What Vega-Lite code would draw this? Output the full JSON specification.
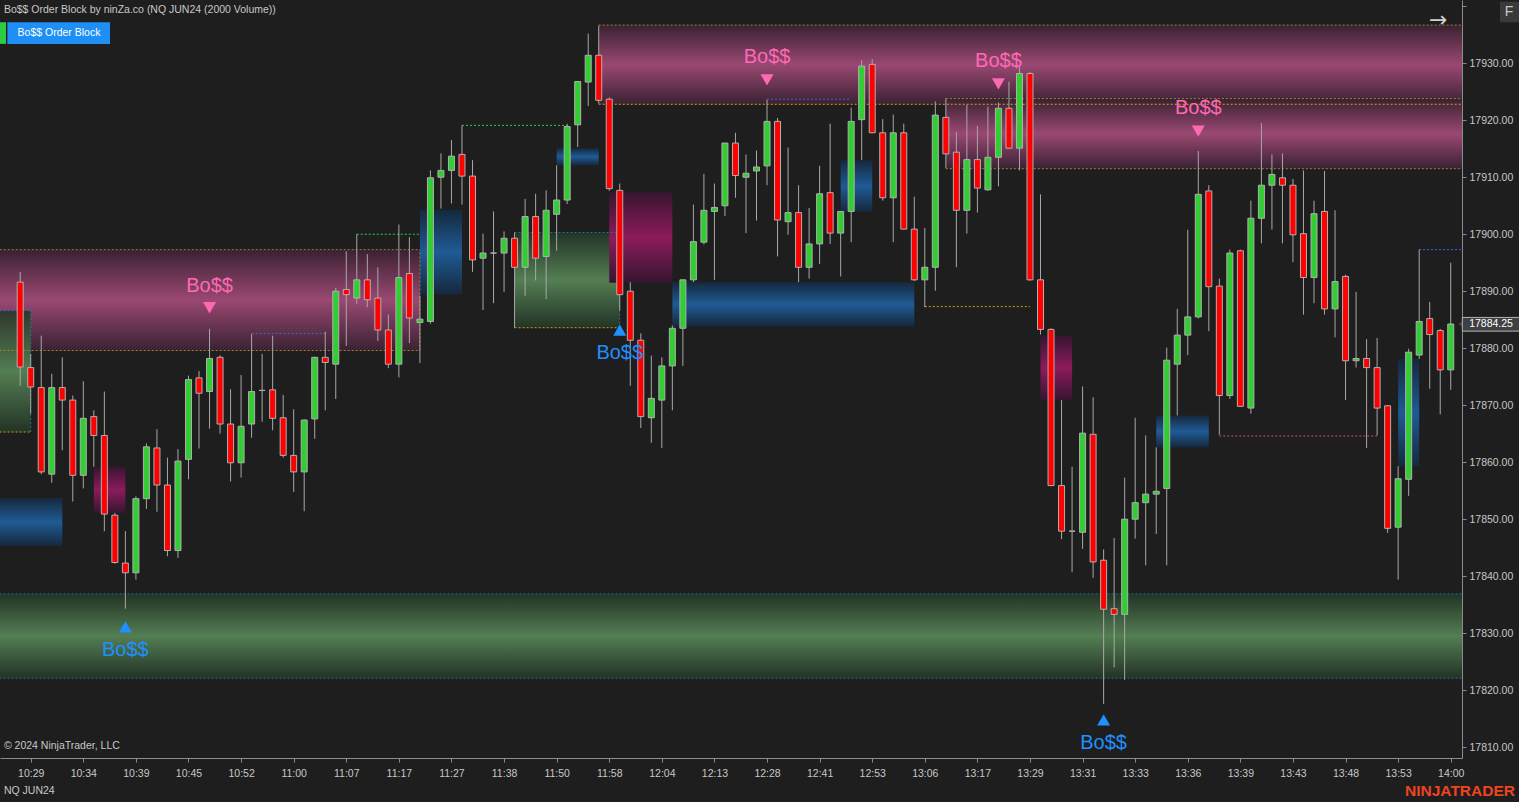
{
  "$schema": "https://vega.github.io/schema/vega-lite/v6.json",
  "width": 1462,
  "height": 758,
  "autosize": {"type": "none"},
  "padding": {"left": 0, "top": 0, "right": 57, "bottom": 44},
  "background": "#1e1e1e",
  "config": {
    "view": {"stroke": null},
    "axis": {"grid": false, "domainColor": "#8c8c8c", "tickColor": "#8c8c8c", "labelColor": "#c8c8c8", "labelFont": "Liberation Sans", "labelFontSize": 10.5, "tickSize": 4, "title": null}
  },
  "datasets": {
    "candles": [
      {"i":0,"o":17891.6,"h":17893.4,"l":17873.4,"c":17876.7},
      {"i":1,"o":17876.6,"h":17879.0,"l":17868.5,"c":17873.2},
      {"i":2,"o":17873.1,"h":17882.2,"l":17857.9,"c":17858.3},
      {"i":3,"o":17857.9,"h":17875.5,"l":17856.4,"c":17873.1},
      {"i":4,"o":17873.1,"h":17878.4,"l":17862.1,"c":17870.9},
      {"i":5,"o":17870.9,"h":17871.7,"l":17853.1,"c":17857.7},
      {"i":6,"o":17857.7,"h":17874.2,"l":17855.4,"c":17867.7},
      {"i":7,"o":17868.0,"h":17869.1,"l":17859.2,"c":17864.7},
      {"i":8,"o":17864.7,"h":17872.4,"l":17847.9,"c":17850.9},
      {"i":9,"o":17850.7,"h":17851.1,"l":17842.2,"c":17842.4},
      {"i":10,"o":17842.3,"h":17847.9,"l":17834.3,"c":17840.6},
      {"i":11,"o":17840.6,"h":17854.0,"l":17839.4,"c":17853.6},
      {"i":12,"o":17853.6,"h":17863.3,"l":17851.8,"c":17862.7},
      {"i":13,"o":17862.5,"h":17865.8,"l":17851.3,"c":17856.0},
      {"i":14,"o":17856.0,"h":17860.8,"l":17843.5,"c":17844.5},
      {"i":15,"o":17844.5,"h":17862.3,"l":17843.2,"c":17860.2},
      {"i":16,"o":17860.5,"h":17875.2,"l":17857.0,"c":17874.5},
      {"i":17,"o":17874.8,"h":17876.0,"l":17862.4,"c":17872.1},
      {"i":18,"o":17872.4,"h":17883.4,"l":17865.9,"c":17878.2},
      {"i":19,"o":17878.4,"h":17878.8,"l":17865.0,"c":17866.7},
      {"i":20,"o":17866.7,"h":17872.8,"l":17856.6,"c":17859.9},
      {"i":21,"o":17859.9,"h":17875.3,"l":17857.3,"c":17866.3},
      {"i":22,"o":17866.7,"h":17882.5,"l":17864.3,"c":17872.4},
      {"i":23,"o":17872.6,"h":17879.0,"l":17867.1,"c":17872.6},
      {"i":24,"o":17872.7,"h":17882.2,"l":17865.6,"c":17867.7},
      {"i":25,"o":17867.8,"h":17871.8,"l":17860.8,"c":17861.2},
      {"i":26,"o":17861.2,"h":17869.3,"l":17854.8,"c":17858.3},
      {"i":27,"o":17858.3,"h":17867.5,"l":17851.4,"c":17867.4},
      {"i":28,"o":17867.6,"h":17878.5,"l":17864.1,"c":17878.4},
      {"i":29,"o":17878.4,"h":17882.9,"l":17869.1,"c":17877.5},
      {"i":30,"o":17877.2,"h":17890.6,"l":17871.1,"c":17890.0},
      {"i":31,"o":17890.3,"h":17897.0,"l":17880.4,"c":17889.4},
      {"i":32,"o":17888.8,"h":17900.0,"l":17887.8,"c":17892.0},
      {"i":33,"o":17892.0,"h":17896.5,"l":17887.2,"c":17888.5},
      {"i":34,"o":17888.8,"h":17894.2,"l":17881.3,"c":17883.2},
      {"i":35,"o":17883.2,"h":17885.9,"l":17876.5,"c":17877.2},
      {"i":36,"o":17877.2,"h":17901.7,"l":17874.9,"c":17892.4},
      {"i":37,"o":17893.1,"h":17899.5,"l":17880.9,"c":17885.3},
      {"i":38,"o":17884.5,"h":17889.2,"l":17877.4,"c":17885.1},
      {"i":39,"o":17884.7,"h":17911.2,"l":17884.3,"c":17909.9},
      {"i":40,"o":17910.0,"h":17914.2,"l":17904.5,"c":17911.2},
      {"i":41,"o":17911.2,"h":17916.5,"l":17905.4,"c":17913.7},
      {"i":42,"o":17914.0,"h":17919.1,"l":17905.2,"c":17910.2},
      {"i":43,"o":17910.2,"h":17913.0,"l":17893.4,"c":17895.5},
      {"i":44,"o":17895.8,"h":17900.1,"l":17886.7,"c":17896.7},
      {"i":45,"o":17896.7,"h":17904.0,"l":17887.9,"c":17896.7},
      {"i":46,"o":17896.7,"h":17900.5,"l":17889.9,"c":17899.3},
      {"i":47,"o":17899.3,"h":17900.3,"l":17883.6,"c":17894.2},
      {"i":48,"o":17894.2,"h":17906.2,"l":17889.2,"c":17903.1},
      {"i":49,"o":17903.1,"h":17907.1,"l":17891.9,"c":17895.8},
      {"i":50,"o":17896.1,"h":17907.7,"l":17888.6,"c":17904.2},
      {"i":51,"o":17903.5,"h":17912.1,"l":17897.1,"c":17906.0},
      {"i":52,"o":17906.0,"h":17919.4,"l":17905.3,"c":17918.9},
      {"i":53,"o":17919.2,"h":17926.8,"l":17915.3,"c":17926.8},
      {"i":54,"o":17926.7,"h":17935.2,"l":17922.5,"c":17931.4},
      {"i":55,"o":17931.4,"h":17936.6,"l":17922.9,"c":17923.5},
      {"i":56,"o":17923.7,"h":17924.0,"l":17907.6,"c":17908.0},
      {"i":57,"o":17907.7,"h":17908.9,"l":17886.6,"c":17889.4},
      {"i":58,"o":17890.0,"h":17891.6,"l":17873.4,"c":17881.4},
      {"i":59,"o":17881.4,"h":17882.6,"l":17866.0,"c":17868.0},
      {"i":60,"o":17867.8,"h":17878.7,"l":17863.4,"c":17871.2},
      {"i":61,"o":17870.9,"h":17878.4,"l":17862.5,"c":17876.9},
      {"i":62,"o":17876.9,"h":17884.0,"l":17869.1,"c":17883.5},
      {"i":63,"o":17883.5,"h":17892.0,"l":17876.9,"c":17892.0},
      {"i":64,"o":17892.0,"h":17905.2,"l":17891.6,"c":17898.7},
      {"i":65,"o":17898.6,"h":17910.6,"l":17898.2,"c":17904.2},
      {"i":66,"o":17904.0,"h":17908.9,"l":17892.0,"c":17904.7},
      {"i":67,"o":17905.0,"h":17916.0,"l":17903.2,"c":17916.0},
      {"i":68,"o":17916.0,"h":17917.8,"l":17906.4,"c":17910.3},
      {"i":69,"o":17910.0,"h":17914.0,"l":17900.2,"c":17910.7},
      {"i":70,"o":17911.1,"h":17914.7,"l":17902.4,"c":17911.8},
      {"i":71,"o":17912.0,"h":17923.6,"l":17908.6,"c":17919.8},
      {"i":72,"o":17919.8,"h":17920.4,"l":17896.1,"c":17902.5},
      {"i":73,"o":17902.2,"h":17915.2,"l":17899.9,"c":17903.8},
      {"i":74,"o":17903.8,"h":17908.6,"l":17891.6,"c":17894.2},
      {"i":75,"o":17894.2,"h":17904.6,"l":17892.2,"c":17898.3},
      {"i":76,"o":17898.3,"h":17912.0,"l":17894.8,"c":17907.1},
      {"i":77,"o":17907.3,"h":17919.4,"l":17898.3,"c":17900.2},
      {"i":78,"o":17900.2,"h":17904.0,"l":17892.6,"c":17904.0},
      {"i":79,"o":17904.0,"h":17922.2,"l":17898.6,"c":17919.8},
      {"i":80,"o":17920.1,"h":17930.5,"l":17913.0,"c":17929.5},
      {"i":81,"o":17929.8,"h":17930.7,"l":17917.8,"c":17917.8},
      {"i":82,"o":17917.8,"h":17920.2,"l":17905.9,"c":17906.4},
      {"i":83,"o":17906.4,"h":17921.0,"l":17898.6,"c":17917.8},
      {"i":84,"o":17917.8,"h":17919.4,"l":17900.9,"c":17900.9},
      {"i":85,"o":17900.9,"h":17906.6,"l":17891.8,"c":17892.0},
      {"i":86,"o":17892.0,"h":17901.1,"l":17887.2,"c":17894.2},
      {"i":87,"o":17894.2,"h":17923.3,"l":17890.1,"c":17920.9},
      {"i":88,"o":17920.5,"h":17923.8,"l":17911.6,"c":17914.1},
      {"i":89,"o":17914.4,"h":17917.9,"l":17894.2,"c":17904.2},
      {"i":90,"o":17904.2,"h":17922.7,"l":17900.1,"c":17913.1},
      {"i":91,"o":17913.1,"h":17919.0,"l":17903.8,"c":17908.1},
      {"i":92,"o":17907.8,"h":17922.4,"l":17907.6,"c":17913.5},
      {"i":93,"o":17913.5,"h":17923.1,"l":17908.4,"c":17922.1},
      {"i":94,"o":17922.1,"h":17926.8,"l":17915.0,"c":17915.1},
      {"i":95,"o":17915.1,"h":17929.4,"l":17911.2,"c":17928.2},
      {"i":96,"o":17928.2,"h":17928.5,"l":17891.8,"c":17892.0},
      {"i":97,"o":17892.0,"h":17907.0,"l":17882.4,"c":17883.3},
      {"i":98,"o":17883.3,"h":17883.5,"l":17855.8,"c":17855.9},
      {"i":99,"o":17855.9,"h":17870.9,"l":17846.5,"c":17847.9},
      {"i":100,"o":17847.9,"h":17859.2,"l":17840.7,"c":17847.9},
      {"i":101,"o":17847.7,"h":17873.3,"l":17844.8,"c":17865.1},
      {"i":102,"o":17864.9,"h":17871.4,"l":17839.7,"c":17842.5},
      {"i":103,"o":17842.8,"h":17844.7,"l":17817.6,"c":17834.2},
      {"i":104,"o":17834.3,"h":17846.7,"l":17824.0,"c":17833.3},
      {"i":105,"o":17833.3,"h":17857.3,"l":17821.8,"c":17850.0},
      {"i":106,"o":17850.0,"h":17867.8,"l":17846.6,"c":17852.9},
      {"i":107,"o":17852.9,"h":17864.7,"l":17841.9,"c":17854.4},
      {"i":108,"o":17854.4,"h":17862.6,"l":17847.4,"c":17854.9},
      {"i":109,"o":17855.4,"h":17880.1,"l":17841.9,"c":17877.9},
      {"i":110,"o":17877.2,"h":17886.9,"l":17868.2,"c":17882.3},
      {"i":111,"o":17882.3,"h":17900.8,"l":17878.8,"c":17885.5},
      {"i":112,"o":17885.5,"h":17914.6,"l":17885.2,"c":17907.0},
      {"i":113,"o":17907.6,"h":17908.6,"l":17883.0,"c":17890.8},
      {"i":114,"o":17890.9,"h":17892.2,"l":17864.8,"c":17871.7},
      {"i":115,"o":17871.7,"h":17897.3,"l":17871.1,"c":17896.7},
      {"i":116,"o":17897.1,"h":17897.3,"l":17869.8,"c":17869.8},
      {"i":117,"o":17869.5,"h":17905.9,"l":17868.5,"c":17902.8},
      {"i":118,"o":17902.8,"h":17919.5,"l":17898.4,"c":17908.6},
      {"i":119,"o":17908.6,"h":17914.0,"l":17900.8,"c":17910.5},
      {"i":120,"o":17909.9,"h":17914.2,"l":17898.4,"c":17908.6},
      {"i":121,"o":17908.6,"h":17909.7,"l":17895.1,"c":17899.9},
      {"i":122,"o":17900.1,"h":17911.2,"l":17885.9,"c":17892.4},
      {"i":123,"o":17892.4,"h":17905.9,"l":17887.9,"c":17903.6},
      {"i":124,"o":17904.0,"h":17911.1,"l":17885.9,"c":17886.9},
      {"i":125,"o":17886.9,"h":17904.2,"l":17881.9,"c":17891.7},
      {"i":126,"o":17892.6,"h":17892.9,"l":17870.9,"c":17877.8},
      {"i":127,"o":17877.8,"h":17889.9,"l":17876.6,"c":17878.2},
      {"i":128,"o":17878.2,"h":17881.6,"l":17862.5,"c":17876.6},
      {"i":129,"o":17876.6,"h":17881.8,"l":17864.7,"c":17869.5},
      {"i":130,"o":17869.9,"h":17870.0,"l":17847.6,"c":17848.4},
      {"i":131,"o":17848.6,"h":17859.3,"l":17839.4,"c":17857.1},
      {"i":132,"o":17857.0,"h":17879.9,"l":17854.1,"c":17879.3},
      {"i":133,"o":17878.8,"h":17897.3,"l":17878.1,"c":17884.7},
      {"i":134,"o":17885.2,"h":17888.1,"l":17872.9,"c":17882.4},
      {"i":135,"o":17883.1,"h":17883.4,"l":17868.4,"c":17876.2},
      {"i":136,"o":17876.2,"h":17895.0,"l":17872.7,"c":17884.25}
    ],
    "zones": [
      {"kind":"bear","i1":55,"i2":140,"lo":17922.8,"hi":17936.7},
      {"kind":"bear","i1":88,"i2":140,"lo":17911.5,"hi":17923.8},
      {"kind":"bear","i1":-5,"i2":38,"lo":17879.6,"hi":17897.3},
      {"kind":"bull","i1":-5,"i2":140,"lo":17822.1,"hi":17836.9},
      {"kind":"bull","i1":47,"i2":57,"lo":17883.6,"hi":17900.3},
      {"kind":"bull","i1":-5,"i2":1,"lo":17865.3,"hi":17886.6},
      {"kind":"blue","i1":-5,"i2":4,"lo":17845.3,"hi":17853.7},
      {"kind":"blue","i1":38,"i2":42,"lo":17889.4,"hi":17904.3},
      {"kind":"blue","i1":51,"i2":55,"lo":17912.1,"hi":17915.1},
      {"kind":"blue","i1":62,"i2":85,"lo":17883.8,"hi":17891.6},
      {"kind":"blue","i1":78,"i2":81,"lo":17903.9,"hi":17913.0},
      {"kind":"blue","i1":108,"i2":113,"lo":17862.6,"hi":17868.2},
      {"kind":"blue","i1":131,"i2":133,"lo":17859.2,"hi":17878.1},
      {"kind":"mag","i1":7,"i2":10,"lo":17851.1,"hi":17859.2},
      {"kind":"mag","i1":56,"i2":62,"lo":17891.5,"hi":17907.4},
      {"kind":"mag","i1":97,"i2":100,"lo":17870.9,"hi":17882.2}
    ],
    "lines": [
      {"kind":"gold","i1":55,"i2":140,"p1":17936.7,"p2":17936.7},
      {"kind":"orange","i1":55,"i2":140,"p1":17922.8,"p2":17922.8},
      {"kind":"gold","i1":88,"i2":140,"p1":17923.8,"p2":17923.8},
      {"kind":"gold","i1":88,"i2":140,"p1":17911.5,"p2":17911.5},
      {"kind":"gold","i1":-5,"i2":38,"p1":17897.3,"p2":17897.3},
      {"kind":"gold","i1":-5,"i2":38,"p1":17879.6,"p2":17879.6},
      {"kind":"gold","i1":38,"i2":38,"p1":17879.6,"p2":17897.3},
      {"kind":"teal","i1":-5,"i2":140,"p1":17836.9,"p2":17836.9},
      {"kind":"teal","i1":-5,"i2":140,"p1":17822.1,"p2":17822.1},
      {"kind":"teal","i1":47,"i2":57,"p1":17900.3,"p2":17900.3},
      {"kind":"orange","i1":47,"i2":57,"p1":17883.6,"p2":17883.6},
      {"kind":"teal","i1":57,"i2":57,"p1":17883.6,"p2":17900.3},
      {"kind":"blue","i1":-5,"i2":1,"p1":17886.6,"p2":17886.6},
      {"kind":"orange","i1":-5,"i2":1,"p1":17865.3,"p2":17865.3},
      {"kind":"teal","i1":1,"i2":1,"p1":17865.3,"p2":17886.6},
      {"kind":"green","i1":42,"i2":52,"p1":17919.1,"p2":17919.1},
      {"kind":"green","i1":32,"i2":38,"p1":17900.0,"p2":17900.0},
      {"kind":"blue","i1":22,"i2":29,"p1":17882.6,"p2":17882.6},
      {"kind":"blue","i1":71,"i2":79,"p1":17923.7,"p2":17923.7},
      {"kind":"orange","i1":86,"i2":96,"p1":17887.3,"p2":17887.3},
      {"kind":"pink","i1":114,"i2":129,"p1":17864.6,"p2":17864.6},
      {"kind":"blue","i1":133,"i2":140,"p1":17897.3,"p2":17897.3}
    ],
    "signals": [
      {"i":18,"dir":"bear","tp":17887.1,"lp":17890.9,"label":"Bo$$"},
      {"i":71,"dir":"bear","tp":17927.1,"lp":17931.1,"label":"Bo$$"},
      {"i":93,"dir":"bear","tp":17926.4,"lp":17930.4,"label":"Bo$$"},
      {"i":112,"dir":"bear","tp":17918.1,"lp":17922.2,"label":"Bo$$"},
      {"i":10,"dir":"bull","tp":17831.1,"lp":17827.1,"label":"Bo$$"},
      {"i":57,"dir":"bull","tp":17883.2,"lp":17879.2,"label":"Bo$$"},
      {"i":103,"dir":"bull","tp":17814.8,"lp":17810.8,"label":"Bo$$"}
    ],
    "ui": [
      {"key":"gbar","i1":-1.92,"i2":-1.35,"p1":17933.4,"p2":17937.2},
      {"key":"btn","i1":-1.22,"i2":8.54,"p1":17933.4,"p2":17937.2},
      {"key":"fbox","i1":140.68,"i2":142.5,"p1":17937.2,"p2":17940.8},
      {"key":"tag","i1":137.1,"i2":142.6,"p1":17883.0,"p2":17885.4}
    ],
    "notes": [
      {"key":"hdr","i":-1.55,"p":17939.35,"t":"Bo$$ Order Block by ninZa.co (NQ JUN24 (2000 Volume))"},
      {"key":"hdr","i":-1.55,"p":17810.2,"t":"© 2024 NinjaTrader, LLC"},
      {"key":"hdr","i":-1.55,"p":17802.3,"t":"NQ JUN24"},
      {"key":"btn","i":3.69,"p":17935.3,"t":"Bo$$ Order Block"},
      {"key":"logo","i":136.88,"p":17802.3,"t":"NINJATRADER"},
      {"key":"arrow","i":134.8,"p":17937.6,"t":"→"},
      {"key":"f","i":141.55,"p":17939.0,"t":"F"},
      {"key":"price","i":139.83,"p":17884.2,"t":"17884.25"}
    ]
  },
  "layer": [
    {
      "data": {"name": "zones"},
      "transform": [{"filter": "datum.kind === 'bear'"}],
      "mark": {"type": "rect", "clip": true, "fill": {"gradient": "linear", "x1": 0, "y1": 0, "x2": 0, "y2": 1, "stops": [{"offset": 0, "color": "#3a2232"}, {"offset": 0.5, "color": "#9a4872"}, {"offset": 1, "color": "#3a2232"}]}},
      "encoding": {
        "x": {"field": "i1", "type": "quantitative", "title": null, "scale": {"domain": [-1.92, 137.07], "nice": false, "zero": false, "padding": 0},
          "axis": {"orient": "bottom", "values": [1,6,11,16,21,26,31,36,41,46,51,56,61,66,71,76,81,86,91,96,101,106,111,116,121,126,131,136],
            "labelExpr": "['10:29','10:34','10:39','10:45','10:52','11:00','11:07','11:17','11:27','11:38','11:50','11:58','12:04','12:13','12:28','12:41','12:53','13:06','13:17','13:29','13:31','13:33','13:36','13:39','13:43','13:48','13:53','14:00'][round((datum.value-1)/5)]",
            "labelPadding": 6, "labelOverlap": false, "labelFlush": false}},
        "x2": {"field": "i2"},
        "y": {"field": "lo", "type": "quantitative", "title": null, "scale": {"domain": [17808.1, 17941.1], "nice": false, "zero": false, "padding": 0},
          "axis": {"orient": "right", "values": [17810,17820,17830,17840,17850,17860,17870,17880,17890,17900,17910,17920,17930,17940],
            "labelExpr": "datum.value > 17935 ? '' : format(datum.value, '.2f')", "labelPadding": 3, "labelOverlap": false, "labelFlush": false}},
        "y2": {"field": "hi"}
      }
    },
    {
      "data": {"name": "zones"},
      "transform": [{"filter": "datum.kind === 'bull'"}],
      "mark": {"type": "rect", "clip": true, "opacity": 0.88, "fill": {"gradient": "linear", "x1": 0, "y1": 0, "x2": 0, "y2": 1, "stops": [{"offset": 0, "color": "#233626"}, {"offset": 0.5, "color": "#5b8b5b"}, {"offset": 1, "color": "#233626"}]}},
      "encoding": {
        "x": {"field": "i1", "type": "quantitative", "title": null},
        "x2": {"field": "i2"},
        "y": {"field": "lo", "type": "quantitative", "title": null},
        "y2": {"field": "hi"}
      }
    },
    {
      "data": {"name": "zones"},
      "transform": [{"filter": "datum.kind === 'blue'"}],
      "mark": {"type": "rect", "clip": true, "fill": {"gradient": "linear", "x1": 0, "y1": 0, "x2": 0, "y2": 1, "stops": [{"offset": 0, "color": "#15283c"}, {"offset": 0.5, "color": "#1f5b95"}, {"offset": 1, "color": "#15283c"}]}},
      "encoding": {
        "x": {"field": "i1", "type": "quantitative", "title": null},
        "x2": {"field": "i2"},
        "y": {"field": "lo", "type": "quantitative", "title": null},
        "y2": {"field": "hi"}
      }
    },
    {
      "data": {"name": "zones"},
      "transform": [{"filter": "datum.kind === 'mag'"}],
      "mark": {"type": "rect", "clip": true, "fill": {"gradient": "linear", "x1": 0, "y1": 0, "x2": 0, "y2": 1, "stops": [{"offset": 0, "color": "#361530"}, {"offset": 0.5, "color": "#8c1b5c"}, {"offset": 1, "color": "#361530"}]}},
      "encoding": {
        "x": {"field": "i1", "type": "quantitative", "title": null},
        "x2": {"field": "i2"},
        "y": {"field": "lo", "type": "quantitative", "title": null},
        "y2": {"field": "hi"}
      }
    },
    {
      "data": {"name": "lines"},
      "mark": {"type": "rule", "clip": true, "strokeDash": [2, 2], "strokeWidth": 1},
      "encoding": {
        "x": {"field": "i1", "type": "quantitative", "title": null},
        "x2": {"field": "i2"},
        "y": {"field": "p1", "type": "quantitative", "title": null},
        "y2": {"field": "p2"},
        "color": {"field": "kind", "type": "nominal", "legend": null, "scale": {"domain": ["gold", "orange", "teal", "blue", "green", "pink"], "range": ["#9a8530", "#d4a017", "#1f7590", "#3d6be0", "#2ecc40", "#e0408a"]}}
      }
    },
    {
      "data": {"name": "candles"},
      "mark": {"type": "rule", "color": "#a8a8a8", "strokeWidth": 1},
      "encoding": {
        "x": {"field": "i", "type": "quantitative", "title": null},
        "y": {"field": "l", "type": "quantitative", "title": null},
        "y2": {"field": "h"}
      }
    },
    {
      "data": {"name": "candles"},
      "mark": {"type": "bar", "width": 6, "stroke": "#b0b0b0", "strokeWidth": 1},
      "encoding": {
        "x": {"field": "i", "type": "quantitative", "title": null},
        "y": {"field": "o", "type": "quantitative", "title": null},
        "y2": {"field": "c"},
        "fill": {"condition": {"test": "datum.c >= datum.o", "value": "#32cd32"}, "value": "#ff0000"}
      }
    },
    {
      "data": {"name": "signals"},
      "mark": {"type": "point", "filled": true, "size": 170, "opacity": 1, "strokeWidth": 0},
      "encoding": {
        "x": {"field": "i", "type": "quantitative", "title": null},
        "y": {"field": "tp", "type": "quantitative", "title": null},
        "shape": {"condition": {"test": "datum.dir === 'bear'", "value": "triangle-down"}, "value": "triangle-up"},
        "fill": {"condition": {"test": "datum.dir === 'bear'", "value": "#ff69b4"}, "value": "#1e90ff"}
      }
    },
    {
      "data": {"name": "signals"},
      "mark": {"type": "text", "font": "Liberation Sans", "fontSize": 20, "align": "center", "baseline": "middle"},
      "encoding": {
        "x": {"field": "i", "type": "quantitative", "title": null},
        "y": {"field": "lp", "type": "quantitative", "title": null},
        "text": {"field": "label"},
        "fill": {"condition": {"test": "datum.dir === 'bear'", "value": "#ff69b4"}, "value": "#1e90ff"}
      }
    },
    {
      "data": {"name": "ui"},
      "transform": [{"filter": "datum.key === 'gbar'"}],
      "mark": {"type": "rect", "fill": "#2ecc40"},
      "encoding": {
        "x": {"field": "i1", "type": "quantitative", "title": null},
        "x2": {"field": "i2"},
        "y": {"field": "p1", "type": "quantitative", "title": null},
        "y2": {"field": "p2"}
      }
    },
    {
      "data": {"name": "ui"},
      "transform": [{"filter": "datum.key === 'btn'"}],
      "mark": {"type": "rect", "fill": "#1e8ff5"},
      "encoding": {
        "x": {"field": "i1", "type": "quantitative", "title": null},
        "x2": {"field": "i2"},
        "y": {"field": "p1", "type": "quantitative", "title": null},
        "y2": {"field": "p2"}
      }
    },
    {
      "data": {"name": "ui"},
      "transform": [{"filter": "datum.key === 'fbox'"}],
      "mark": {"type": "rect", "fill": "#3a3a3a"},
      "encoding": {
        "x": {"field": "i1", "type": "quantitative", "title": null},
        "x2": {"field": "i2"},
        "y": {"field": "p1", "type": "quantitative", "title": null},
        "y2": {"field": "p2"}
      }
    },
    {
      "data": {"name": "ui"},
      "transform": [{"filter": "datum.key === 'tag'"}],
      "mark": {"type": "point", "shape": "triangle-left", "filled": true, "size": 110, "fill": "#404044", "opacity": 1},
      "encoding": {
        "x": {"field": "i1", "type": "quantitative", "title": null},
        "y": {"value": 324}
      }
    },
    {
      "data": {"name": "ui"},
      "transform": [{"filter": "datum.key === 'tag'"}],
      "mark": {"type": "rect", "fill": "#404044", "stroke": "#b4b4b4", "strokeWidth": 1},
      "encoding": {
        "x": {"field": "i1", "type": "quantitative", "title": null},
        "x2": {"field": "i2"},
        "y": {"field": "p1", "type": "quantitative", "title": null},
        "y2": {"field": "p2"}
      }
    },
    {
      "data": {"name": "notes"},
      "transform": [{"filter": "datum.key === 'hdr'"}],
      "mark": {"type": "text", "font": "Liberation Sans", "fontSize": 10.5, "align": "left", "baseline": "middle", "fill": "#c8c8c8"},
      "encoding": {
        "x": {"field": "i", "type": "quantitative", "title": null},
        "y": {"field": "p", "type": "quantitative", "title": null},
        "text": {"field": "t"}
      }
    },
    {
      "data": {"name": "notes"},
      "transform": [{"filter": "datum.key === 'btn'"}],
      "mark": {"type": "text", "font": "Liberation Sans", "fontSize": 10.5, "align": "center", "baseline": "middle", "fill": "#ffffff"},
      "encoding": {
        "x": {"field": "i", "type": "quantitative", "title": null},
        "y": {"field": "p", "type": "quantitative", "title": null},
        "text": {"field": "t"}
      }
    },
    {
      "data": {"name": "notes"},
      "transform": [{"filter": "datum.key === 'logo'"}],
      "mark": {"type": "text", "font": "Liberation Sans", "fontSize": 15.5, "fontWeight": "bold", "align": "center", "baseline": "middle", "fill": "#f0441e"},
      "encoding": {
        "x": {"field": "i", "type": "quantitative", "title": null},
        "y": {"field": "p", "type": "quantitative", "title": null},
        "text": {"field": "t"}
      }
    },
    {
      "data": {"name": "notes"},
      "transform": [{"filter": "datum.key === 'arrow'"}],
      "mark": {"type": "text", "font": "DejaVu Sans", "fontSize": 22, "align": "center", "baseline": "middle", "fill": "#d0d0d0"},
      "encoding": {
        "x": {"field": "i", "type": "quantitative", "title": null},
        "y": {"field": "p", "type": "quantitative", "title": null},
        "text": {"field": "t"}
      }
    },
    {
      "data": {"name": "notes"},
      "transform": [{"filter": "datum.key === 'f'"}],
      "mark": {"type": "text", "font": "Liberation Sans", "fontSize": 14, "align": "center", "baseline": "middle", "fill": "#c8c8c8"},
      "encoding": {
        "x": {"field": "i", "type": "quantitative", "title": null},
        "y": {"field": "p", "type": "quantitative", "title": null},
        "text": {"field": "t"}
      }
    },
    {
      "data": {"name": "notes"},
      "transform": [{"filter": "datum.key === 'price'"}],
      "mark": {"type": "text", "font": "Liberation Sans", "fontSize": 10.5, "align": "center", "baseline": "middle", "fill": "#ffffff"},
      "encoding": {
        "x": {"field": "i", "type": "quantitative", "title": null},
        "y": {"field": "p", "type": "quantitative", "title": null},
        "text": {"field": "t"}
      }
    }
  ]
}
